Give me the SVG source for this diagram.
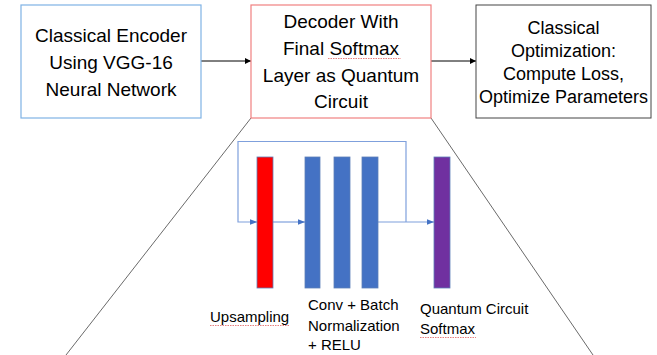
<svg xmlns="http://www.w3.org/2000/svg" width="657" height="355" viewBox="0 0 657 355">
<defs>
<style>
.t{font-family:"Liberation Sans",Arial,sans-serif;fill:#000;text-anchor:middle}
.big{font-size:19px}
.mid{font-size:18px}
.lab{font-family:"Liberation Sans",Arial,sans-serif;font-size:15px;fill:#000}
.conn{stroke:#000;stroke-width:1;fill:none}
.flow{stroke:#7FA0DC;stroke-width:1.2;fill:none}
.diag{stroke:#6a6a6a;stroke-width:1;fill:none}
.bar{stroke:#5E7FB8;stroke-width:0.8}
.sq{stroke:#E06060;stroke-width:0.8;fill:none;stroke-dasharray:1.5 1}
</style>
<marker id="ah" viewBox="0 0 10 10" refX="10" refY="5" markerWidth="6" markerHeight="6" orient="auto" markerUnits="userSpaceOnUse"><path d="M0,0 L10,5 L0,10 z" fill="#000"/></marker>
<marker id="ab" viewBox="0 0 10 10" refX="10" refY="5" markerWidth="7" markerHeight="7" orient="auto" markerUnits="userSpaceOnUse"><path d="M0,1 L10,5 L0,9 z" fill="#4472C4"/></marker>
</defs>
<rect width="657" height="355" fill="#fff"/>
<g id="connectors">
<line class="conn" x1="201" y1="61" x2="251" y2="61" marker-end="url(#ah)"/>
<line class="conn" x1="431" y1="61" x2="476" y2="61" marker-end="url(#ah)"/>
<line class="diag" x1="251" y1="118" x2="66" y2="355"/>
<line class="diag" x1="431" y1="118" x2="593" y2="355"/>
<path class="flow" d="M406,222 V141.5 H238 V222 H257" marker-end="url(#ab)"/>
<line class="flow" x1="273" y1="222" x2="305" y2="222" marker-end="url(#ab)"/>
<line class="flow" x1="378" y1="222" x2="434" y2="222" marker-end="url(#ab)"/>
</g>
<g id="encoder">
<rect x="21" y="5" width="180" height="113" fill="#fff" stroke="#7FB2E5" stroke-width="1.2"/>
<text class="t big" x="111" y="42">Classical Encoder</text>
<text class="t big" x="111" y="69">Using VGG-16</text>
<text class="t big" x="111" y="96">Neural Network</text>
</g>
<g id="decoder">
<rect x="251" y="5" width="180" height="113" fill="#fff" stroke="#F08080" stroke-width="1.2"/>
<text class="t big" x="341" y="28">Decoder With</text>
<text class="t big" x="341" y="55">Final Softmax</text>
<text class="t big" x="341" y="82">Layer as Quantum</text>
<text class="t big" x="341" y="108">Circuit</text>
<path class="sq" d="M328,58.5 H401"/>
</g>
<g id="optimization">
<rect x="476" y="5" width="175" height="113" fill="#fff" stroke="#444" stroke-width="1"/>
<text class="t mid" x="563.5" y="34">Classical</text>
<text class="t mid" x="563.5" y="57">Optimization:</text>
<text class="t mid" x="563.5" y="80">Compute Loss,</text>
<text class="t mid" x="563.5" y="103">Optimize Parameters</text>
</g>
<g id="upsampling">
<rect class="bar" x="257" y="157" width="16" height="131" fill="#FF0000"/>
<text class="lab" x="210" y="322">Upsampling</text>
<path class="sq" d="M210,325.5 H290"/>
</g>
<g id="conv">
<rect class="bar" x="305" y="157" width="15" height="131" fill="#4472C4"/>
<rect class="bar" x="334" y="157" width="16" height="131" fill="#4472C4"/>
<rect class="bar" x="362" y="157" width="16" height="131" fill="#4472C4"/>
<text class="lab" x="308" y="310">Conv + Batch</text>
<text class="lab" x="308" y="331">Normalization</text>
<text class="lab" x="308" y="350">+ RELU</text>
</g>
<g id="quantum">
<rect class="bar" x="434" y="157" width="16" height="131" fill="#7030A0"/>
<text class="lab" x="420" y="314">Quantum Circuit</text>
<text class="lab" x="420" y="334">Softmax</text>
<path class="sq" d="M420,337.5 H476"/>
</g>
</svg>
